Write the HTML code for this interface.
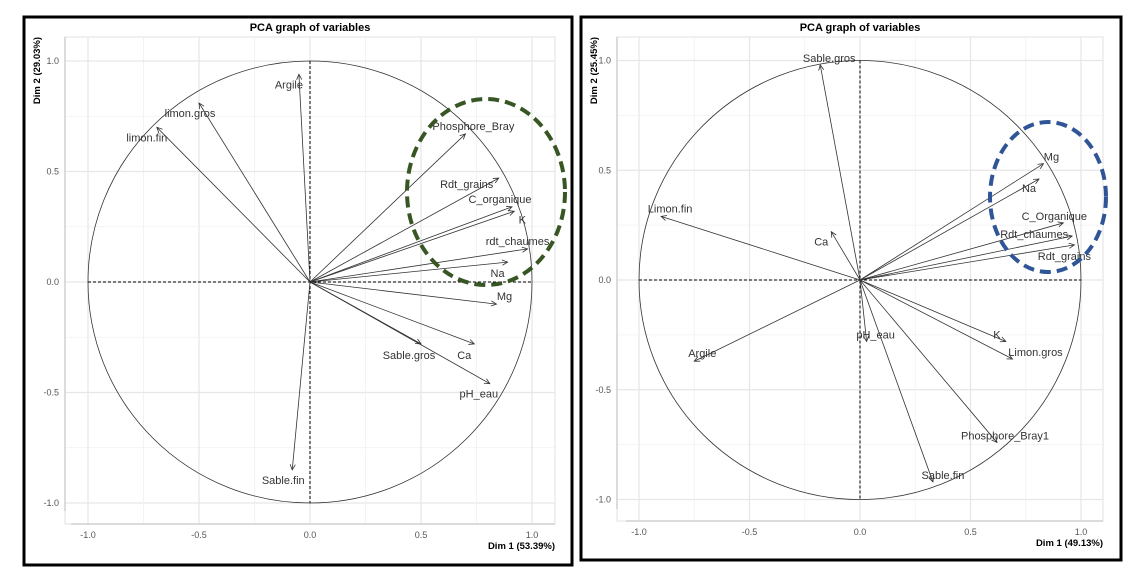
<!DOCTYPE html>
<html><head><meta charset="utf-8">
<style>
html,body{margin:0;padding:0;background:#fff;}
body{width:1138px;height:577px;position:relative;overflow:hidden;font-family:"Liberation Sans",sans-serif;}
svg{position:absolute;left:0;top:0;}
</style></head>
<body>
<svg id="chart" width="1138" height="577" viewBox="0 0 1138 577"></svg>
<script>
// Left panel data
const leftNames = ["Argile","limon.gros","limon.fin","Phosphore_Bray","Rdt_grains","C_organique","K","rdt_chaumes","Na","Mg","Ca","Sable.gros","pH_eau","Sable.fin"];
const leftDim1 = [-0.05,-0.50,-0.69,0.70,0.85,0.91,0.92,0.98,0.89,0.84,0.74,0.50,0.81,-0.08];
const leftDim2 = [0.94,0.81,0.70,0.67,0.47,0.34,0.32,0.15,0.09,-0.10,-0.28,-0.28,-0.46,-0.85];
// Right panel data
const rightNames = ["Sable.gros","Limon.fin","Ca","Argile","pH_eau","Sable.fin","Phosphore_Bray1","K","Limon.gros","Mg","Na","C_Organique","Rdt_chaumes","Rdt_grains"];
const rightDim1 = [-0.18,-0.90,-0.13,-0.75,0.03,0.33,0.62,0.66,0.69,0.83,0.81,0.92,0.96,0.97];
const rightDim2 = [0.98,0.29,0.22,-0.37,-0.28,-0.92,-0.74,-0.28,-0.36,0.53,0.46,0.26,0.20,0.16];
const tickVals = [-1.0,-0.5,0.0,0.5,1.0];
const tickLabels = ["-1.0","-0.5","0.0","0.5","1.0"];

const NS="http://www.w3.org/2000/svg";
const svg=document.getElementById('chart');
function mk(tag,attrs,parent){const e=document.createElementNS(NS,tag);for(const k in attrs)e.setAttribute(k,attrs[k]);(parent||svg).appendChild(e);return e;}

const leftOff=[[-10,10],[-9,10],[-10,10],[8,-8],[-32,6],[-12,-8],[8,8],[-10,-8],[-10,11],[8,-8],[-10,11],[-12,11],[-11,10],[-9,10]];
const rightOff=[[9,-7],[9,-8],[-10,10],[8,-8],[9,-7],[10,-7],[8,-7],[-9,-7],[23,-7],[8,-7],[-10,9],[-9,-7],[-38,-2],[-10,11]];

function panel(cfg){
  const g=mk('g',{});
  
  
  const sx=v=>cfg.cx+v*cfg.kx, sy=v=>cfg.cy-v*cfg.ky;
  // frame
  const fr=mk('rect',{x:cfg.box[0],y:cfg.box[1],width:cfg.box[2]-cfg.box[0],height:cfg.box[3]-cfg.box[1],fill:'#fff',stroke:'#000','stroke-width':3},g);
  
  // plot panel border
  mk('rect',{x:cfg.pl,y:cfg.pt,width:cfg.pr-cfg.pl,height:cfg.pb-cfg.pt,fill:'none',stroke:'#e0e0e0','stroke-width':1},g);
  // grid
  for(let v=-1;v<=1.001;v+=0.25){
    const major=Math.abs(v*2-Math.round(v*2))<1e-6;
    const c=major?'#e6e6e6':'#f0f0f0', w=major?1.2:0.8;
    mk('line',{x1:sx(v),x2:sx(v),y1:cfg.pt,y2:cfg.pb,stroke:c,'stroke-width':w},g);
    mk('line',{x1:cfg.pl,x2:cfg.pr,y1:sy(v),y2:sy(v),stroke:c,'stroke-width':w},g);
  }
  // axis lines
  mk('line',{x1:cfg.pl,x2:cfg.pl,y1:cfg.pt,y2:cfg.ylEnd,stroke:'#d0d0d0','stroke-width':1.5},g);
  mk('line',{x1:cfg.xlStart,x2:cfg.pr,y1:cfg.pb,y2:cfg.pb,stroke:'#d0d0d0','stroke-width':1.5},g);
  // ticks
  tickVals.forEach((v,i)=>{
    const t1=mk('text',{x:sx(v),y:cfg.pb+14,'text-anchor':'middle','font-size':9,fill:'#555'},g);t1.textContent=tickLabels[i];
    
    const t2=mk('text',{x:cfg.pl-6,y:sy(v)+3,'text-anchor':'end','font-size':9,fill:'#555'},g);t2.textContent=tickLabels[i];
    
  });
  // circle
  const c=mk('ellipse',{cx:cfg.cx,cy:cfg.cy,rx:cfg.kx,ry:cfg.ky,fill:'none',stroke:'#333','stroke-width':0.8},g);
  
  // dashed axes
  mk('line',{x1:sx(-1),x2:sx(1),y1:cfg.cy,y2:cfg.cy,stroke:'#000','stroke-width':1,'stroke-dasharray':'3,2'},g);
  mk('line',{x1:cfg.cx,x2:cfg.cx,y1:sy(1),y2:sy(-1),stroke:'#000','stroke-width':1,'stroke-dasharray':'3,2'},g);
  // arrows
  cfg.names.forEach((n,i)=>{
    const x=sx(cfg.d1[i]), y=sy(cfg.d2[i]);
    const ag=mk('g',{},g);
    
    
    mk('line',{x1:cfg.cx,y1:cfg.cy,x2:x,y2:y,stroke:'#333','stroke-width':0.8},ag);
    const a=Math.atan2(y-cfg.cy,x-cfg.cx), L=6, s=0.45;
    const p1=[x-L*Math.cos(a-s),y-L*Math.sin(a-s)], p2=[x-L*Math.cos(a+s),y-L*Math.sin(a+s)];
    mk('polyline',{points:`${p1[0]},${p1[1]} ${x},${y} ${p2[0]},${p2[1]}`,fill:'none',stroke:'#333','stroke-width':0.8},ag);
    const o=cfg.off[i];
    const t=mk('text',{x:x+o[0],y:y+o[1]+4,'text-anchor':'middle','font-size':11,fill:'#333'},ag);
    t.textContent=n;
    
    
  });
  // highlight ellipse
  const he=mk('ellipse',{cx:cfg.hl[0],cy:cfg.hl[1],rx:cfg.hl[2],ry:cfg.hl[3],fill:'none',stroke:cfg.hlColor,'stroke-width':4,'stroke-dasharray':'11,6'},g);
  
  // titles
  const tt=mk('text',{x:cfg.cx,y:31,'text-anchor':'middle','font-size':11,'font-weight':'bold',fill:'#000'},g);tt.textContent='PCA graph of variables';
  
  const xt=mk('text',{x:cfg.pr,y:cfg.pb+25,'text-anchor':'end','font-size':9.5,'font-weight':'bold',fill:'#000'},g);xt.textContent=cfg.xTitle;
  
  const yt=mk('text',{x:0,y:0,'text-anchor':'end','font-size':9.5,'font-weight':'bold',fill:'#000',transform:`translate(${cfg.box[0]+16},${cfg.pt}) rotate(-90)`},g);yt.textContent=cfg.yTitle;
  
}

panel({name:'left-pca-panel',box:[24,17,572,565],cx:310,cy:282,kx:222,ky:221,pl:65,pr:555,pt:37,pb:524,ylEnd:511,xlStart:71,
  names:leftNames,d1:leftDim1,d2:leftDim2,off:leftOff,hl:[486,192,79,93],hlColor:'#375623',xTitle:'Dim 1 (53.39%)',yTitle:'Dim 2 (29.03%)'});
panel({name:'right-pca-panel',box:[581,17,1121,560],cx:860,cy:280,kx:221,ky:219.5,pl:617,pr:1103,pt:37,pb:521,ylEnd:509,xlStart:626,
  names:rightNames,d1:rightDim1,d2:rightDim2,off:rightOff,hl:[1048,197,58,75],hlColor:'#2F5597',xTitle:'Dim 1 (49.13%)',yTitle:'Dim 2 (25.45%)'});
</script>
</body></html>
